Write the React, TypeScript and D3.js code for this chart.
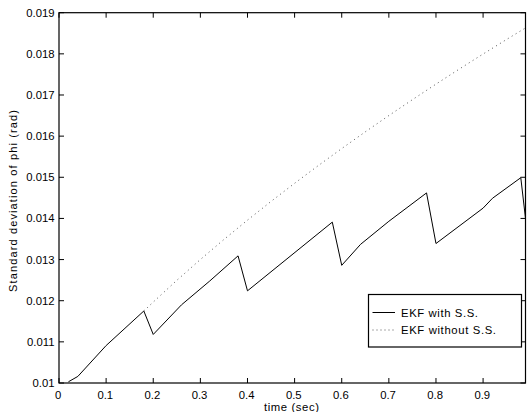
import React from "react";
import * as d3 from "d3";

const withSST = [0.02, 0.04, 0.10, 0.14, 0.18, 0.20, 0.26, 0.32, 0.38, 0.40, 0.58, 0.60, 0.64, 0.70, 0.78, 0.80, 0.90, 0.92, 0.98, 0.99];
const withSSV = [0.01003, 0.01016, 0.01091, 0.01133, 0.01175, 0.01118, 0.01190, 0.01248, 0.01309, 0.01224, 0.01391, 0.01286, 0.01337, 0.01393, 0.01462, 0.01339, 0.01425, 0.01449, 0.01499, 0.01400];

const withoutSST = [0.18, 0.20, 0.25, 0.30, 0.35, 0.40, 0.45, 0.50, 0.55, 0.60, 0.65, 0.70, 0.75, 0.80, 0.85, 0.90, 0.95, 0.99];
const withoutSSV = [0.01175, 0.011967, 0.012495, 0.013001, 0.013488, 0.013958, 0.014413, 0.014854, 0.015282, 0.015698, 0.016104, 0.0165, 0.016886, 0.017264, 0.017634, 0.017996, 0.018351, 0.01863];

const xTicks = [0, 0.1, 0.2, 0.3, 0.4, 0.5, 0.6, 0.7, 0.8, 0.9];
const xTickLabels = ["0", "0.1", "0.2", "0.3", "0.4", "0.5", "0.6", "0.7", "0.8", "0.9"];
const yTicks = [0.01, 0.011, 0.012, 0.013, 0.014, 0.015, 0.016, 0.017, 0.018, 0.019];
const yTickLabels = ["0.01", "0.011", "0.012", "0.013", "0.014", "0.015", "0.016", "0.017", "0.018", "0.019"];
const legendLabels = ["EKF with S.S.", "EKF without S.S."];

const W = 527, H = 412;
const L = 59, R = 525.5, T = 12.7, B = 383;
const font = "Liberation Sans, Arial, Helvetica, sans-serif";

export default function App() {
  const x = d3.scaleLinear().domain([0, 0.99]).range([L, R]);
  const y = d3.scaleLinear().domain([0.01, 0.019]).range([B, T]);
  const line = d3.line<[number, number]>().x(d => x(d[0])).y(d => y(d[1]));
  const s1 = withSST.map((t, i) => [t, withSSV[i]] as [number, number]);
  const s2 = withoutSST.map((t, i) => [t, withoutSSV[i]] as [number, number]);
  const tl = 5;
  const fs = 11.3;
  return (
    <svg width={W} height={H} style={{ position: "absolute", left: 0, top: 0, background: "#fff" }} fontFamily={font}>
      <rect x={0} y={0} width={W} height={H} fill="#fff" />
      <defs>
        <clipPath id="plotclip"><rect x={L} y={T} width={R - L} height={B - T} /></clipPath>
      </defs>
      <g clipPath="url(#plotclip)">
        <path d={line(s2) || ""} fill="none" stroke="#555" strokeWidth={1} strokeDasharray="1 3.6" />
        <path d={line(s1) || ""} fill="none" stroke="#000" strokeWidth={1} />
      </g>
      <rect x={L} y={T} width={R - L} height={B - T} fill="none" stroke="#000" strokeWidth={1.2} />
      {xTicks.map((v, i) => (
        <g key={"x" + i}>
          <line x1={x(v)} x2={x(v)} y1={B} y2={B - tl} stroke="#000" />
          <line x1={x(v)} x2={x(v)} y1={T} y2={T + tl} stroke="#000" />
          <text x={x(v) - 0.8} y={398.5} fontSize={fs} textAnchor="middle" fill="#000">{xTickLabels[i]}</text>
        </g>
      ))}
      {yTicks.map((v, i) => (
        <g key={"y" + i}>
          <line x1={L} x2={L + tl} y1={y(v)} y2={y(v)} stroke="#000" />
          <line x1={R} x2={R - tl} y1={y(v)} y2={y(v)} stroke="#000" />
          <text x={54.5} y={y(v) + 4} fontSize={fs} textAnchor="end" fill="#000">{yTickLabels[i]}</text>
        </g>
      ))}
      <text x={291.5} y={410.5} fontSize={fs} textAnchor="middle" textLength={55} lengthAdjust="spacing" fill="#000">time (sec)</text>
      <text transform={`translate(17, 201) rotate(-90)`} fontSize={11} textAnchor="middle" textLength={182} lengthAdjust="spacing" fill="#000">Standard deviation of phi (rad)</text>
      <g>
        <rect x={368.5} y={294.5} width={153} height={52.5} fill="#fff" stroke="#000" strokeWidth={1.2} />
        <line x1={372.5} x2={395} y1={312.5} y2={312.5} stroke="#000" />
        <line x1={372.5} x2={395} y1={330} y2={330} stroke="#555" strokeDasharray="1 3" />
        <text x={401} y={316.5} fontSize={fs} textLength={77} lengthAdjust="spacing" fill="#000">{legendLabels[0]}</text>
        <text x={401} y={334} fontSize={fs} textLength={95} lengthAdjust="spacing" fill="#000">{legendLabels[1]}</text>
      </g>
    </svg>
  );
}
